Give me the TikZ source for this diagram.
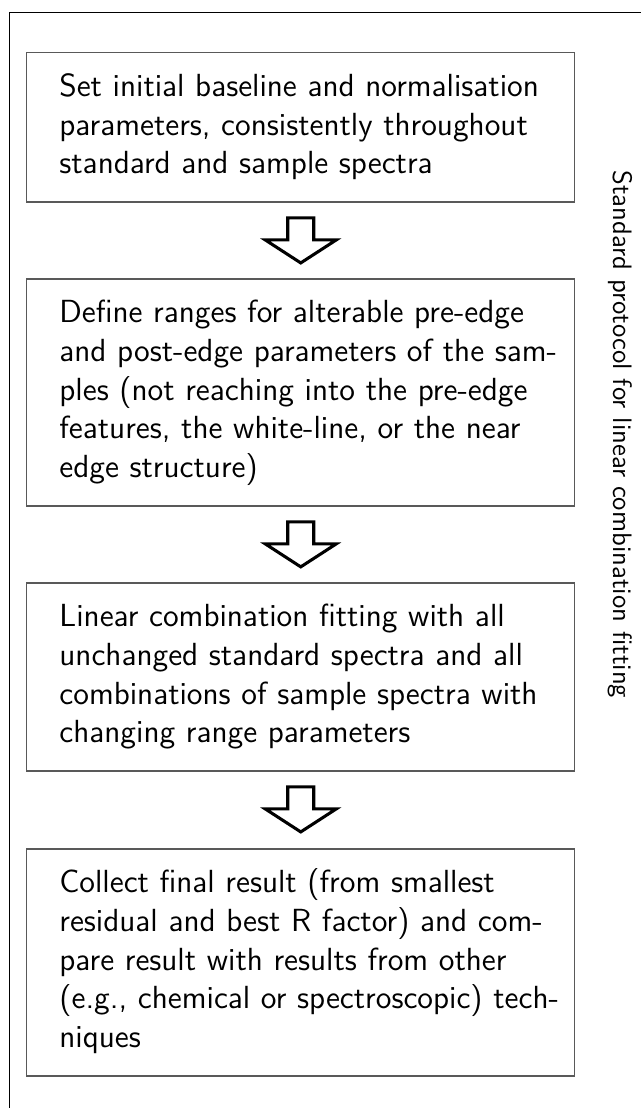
\documentclass[tikz,border=0pt]{standalone}
\usepackage{fontspec}
\usetikzlibrary{calc}
\newcommand\jl[1]{\makebox[181pt][s]{\strut#1}}
\tikzset{
  stepbox/.style={draw=black!65, line width=0.45pt, text width=181pt, inner xsep=12.25pt,
    inner ysep=0pt, align=left, font=\sffamily\fontsize{12}{14.5}\selectfont},
  blockarrow/.style={draw=black, line width=1.15pt, line join=miter, fill=white},
  frameline/.style={draw=black, line width=0.45pt},
  sidelabel/.style={font=\sffamily\fontsize{10}{12}\selectfont, rotate=-90, anchor=base west, inner sep=0pt}
}
\begin{document}
\begin{tikzpicture}[x=0.375pt,y=-0.375pt]
\useasboundingbox (0,0) rectangle (641,1108);
\draw[frameline] (9.3,1108) -- (9.3,12.7) -- (641,12.7);

\node[stepbox, minimum height=56pt] (b1) at (300.75,127.35)
 {\jl{Set initial baseline and normalisation}\\
  \jl{parameters, consistently throughout}\\
  \strut standard and sample spectra};

\node[stepbox, minimum height=85.1pt] (b2) at (300.75,392.5)
 {\jl{Define ranges for alterable pre-edge}\\
  \jl{and post-edge parameters of the sam-}\\
  \jl{ples (not reaching into the pre-edge}\\
  \jl{features, the white-line, or the near}\\
  \strut edge structure)};

\node[stepbox, minimum height=70.5pt] (b3) at (300.75,677)
 {\jl{Linear combination fitting with all}\\
  \jl{unchanged standard spectra and all}\\
  \jl{combinations of sample spectra with}\\
  \strut changing range parameters};

\node[stepbox, minimum height=85.1pt] (b4) at (300.75,962.5)
 {\jl{Collect final result (from smallest}\\
  \jl{residual and best R factor) and com-}\\
  \jl{pare result with results from other}\\
  \jl{(e.g., chemical or spectroscopic) tech-}\\
  \strut niques};

\foreach \a in {b1,b2,b3}{
  \draw[blockarrow]
    ($(\a.south)+(-13,15.3)$) -- ($(\a.south)+(13,15.3)$) -- ($(\a.south)+(13,37.3)$)
    -- ($(\a.south)+(35.5,37.3)$) -- ($(\a.south)+(0,60.3)$) -- ($(\a.south)+(-35.5,37.3)$)
    -- ($(\a.south)+(-13,37.3)$) -- cycle;
}

\node[sidelabel] (lbl) at (613,170) {Standard protocol for linear combination fitting};
\end{tikzpicture}
\end{document}
